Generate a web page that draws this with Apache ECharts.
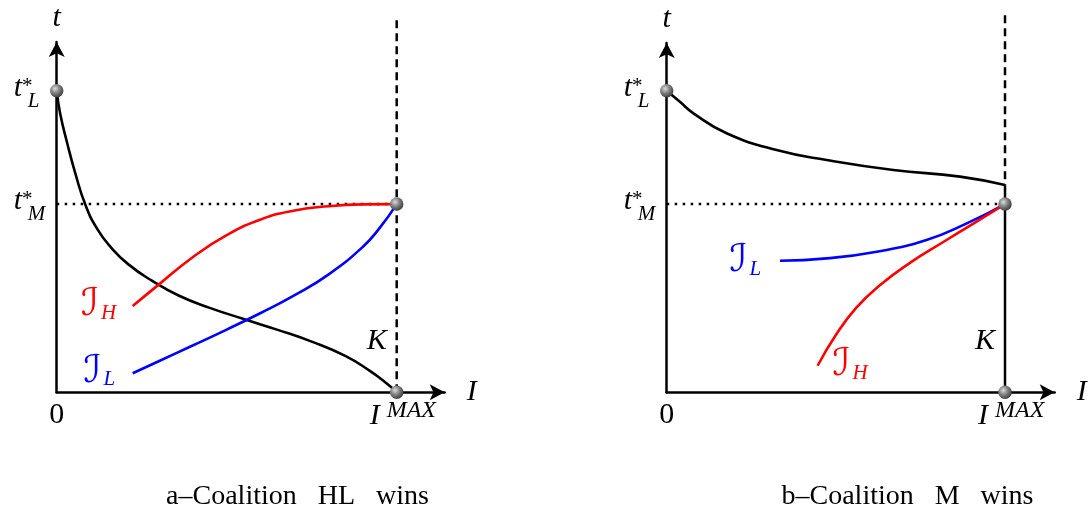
<!DOCTYPE html>
<html>
<head>
<meta charset="utf-8">
<script src="https://cdn.jsdelivr.net/npm/echarts@6/dist/echarts.min.js"></script>
<style>
  html, body { margin: 0; padding: 0; background: #fff; }
  #chart { width: 1092px; height: 515px; }
</style>
</head>
<body>
<div id="chart"></div>
<script>
// Key levels (normalised: I^MAX = 1, t*_L = 1)
const I_MAX = 1;
const T_L = 1;
const T_M = 0.624;
const T_TOP = 1.25;       // top of the capacity line K
const B_KNEE_T = 0.687;   // where the panel b frontier meets K

// Panel a: coalition HL wins
const aFrontierI = [0, 0.01, 0.03, 0.055, 0.085, 0.12, 0.16, 0.21, 0.28, 0.36, 0.45, 0.55, 0.65, 0.75, 0.85, 0.92, 0.97, 1];
const aFrontierT = [1, 0.925, 0.83, 0.725, 0.62, 0.54, 0.48, 0.425, 0.37, 0.32, 0.28, 0.243, 0.207, 0.168, 0.12, 0.072, 0.03, 0];
const aHighI = [0.2235, 0.3, 0.4, 0.5, 0.6, 0.7, 0.8, 0.9, 1];
const aHighT = [0.286, 0.357, 0.448, 0.521, 0.573, 0.603, 0.617, 0.623, 0.624];
const aLowI = [0.2235, 0.3, 0.4, 0.5, 0.6, 0.7, 0.8, 0.9, 0.95, 1];
const aLowT = [0.063, 0.103, 0.155, 0.208, 0.263, 0.322, 0.391, 0.482, 0.545, 0.624];

// Panel b: coalition M wins
const bFrontierI = [0, 0.039, 0.079, 0.177, 0.325, 0.473, 0.670, 0.867, 1];
const bFrontierT = [1, 0.963, 0.925, 0.859, 0.803, 0.770, 0.737, 0.715, 0.687];
const bHighI = [0.446, 0.5, 0.56, 0.63, 0.72, 0.82, 0.91, 1];
const bHighT = [0.088, 0.19, 0.28, 0.355, 0.43, 0.50, 0.562, 0.624];
const bLowI = [0.335, 0.473, 0.621, 0.768, 0.887, 1];
const bLowT = [0.436, 0.444, 0.466, 0.505, 0.560, 0.624];

const captions = ['a\u2013Coalition   HL   wins', 'b\u2013Coalition   M   wins'];

const zip = (xs, ys) => xs.map((x, i) => [x, ys[i]]);

const grids = [
  { left: 56.7, top: 42, width: 388, height: 350.3 },
  { left: 666.7, top: 43, width: 388, height: 349.3 }
];
const xMax = [388 / 340, 388 / 338.3];
const yMax = [350.3 / 301.6, 349.3 / 301.6];

const axisLineStyle = { color: '#000', width: 2.5 };
function axis(g, max) {
  return {
    gridIndex: g, type: 'value', min: 0, max: max,
    axisLine: { show: true, onZero: false, symbol: ['none', 'arrow'], symbolSize: [12, 15], lineStyle: axisLineStyle },
    axisTick: { show: false }, axisLabel: { show: false }, splitLine: { show: false }
  };
}

const sphere = {
  type: 'radial', x: 0.38, y: 0.35, r: 0.7,
  colorStops: [
    { offset: 0, color: '#dcdcdc' },
    { offset: 0.45, color: '#858585' },
    { offset: 1, color: '#363636' }
  ]
};

function curve(g, data, color, z) {
  return {
    type: 'line', xAxisIndex: g, yAxisIndex: g, data: data,
    smooth: 0.5, symbol: 'none', z: z || 3,
    lineStyle: { color: color, width: 2.6 }
  };
}
function straight(g, data, type, z) {
  return {
    type: 'line', xAxisIndex: g, yAxisIndex: g, data: data, clip: false,
    symbol: 'none', z: z || 2, silent: true,
    lineStyle: { color: '#000', width: 2.5, type: type }
  };
}
function dots(g) {
  return {
    type: 'scatter', xAxisIndex: g, yAxisIndex: g, z: 10,
    data: [[0, T_L], [I_MAX, T_M], [I_MAX, 0]],
    symbolSize: 13.5,
    itemStyle: { color: sphere, opacity: 1 }
  };
}

const series = [
  // panel a
  straight(0, [[0, T_M], [I_MAX, T_M]], [2.5, 5.5]),
  straight(0, [[I_MAX, 0], [I_MAX, T_TOP]], [8, 5]),
  curve(0, zip(aFrontierI, aFrontierT), '#000', 3),
  curve(0, zip(aHighI, aHighT), '#ff0000', 4),
  curve(0, zip(aLowI, aLowT), '#0000ff', 4),
  dots(0),
  // panel b
  straight(1, [[0, T_M], [I_MAX, T_M]], [2.5, 5.5]),
  straight(1, [[I_MAX, T_TOP], [I_MAX, B_KNEE_T]], [8, 5]),
  straight(1, [[I_MAX, 0], [I_MAX, B_KNEE_T]], 'solid'),
  curve(1, zip(bFrontierI, bFrontierT), '#000', 3),
  curve(1, zip(bLowI, bLowT), '#0000ff', 4),
  curve(1, zip(bHighI, bHighT), '#ff0000', 5),
  dots(1)
];

const chart = echarts.init(document.getElementById('chart'), null, { renderer: 'canvas' });
chart.setOption({
  animation: false,
  backgroundColor: '#fff',
  grid: grids,
  xAxis: [axis(0, xMax[0]), axis(1, xMax[1])],
  yAxis: [axis(0, yMax[0]), axis(1, yMax[1])],
  series: series
});

// ---- text labels, anchored to data positions ----
const MATH = '"Liberation Serif", "DejaVu Serif", serif';
const SCRIPT = '"DejaVu Serif", "DejaVu Sans", "Noto Sans", serif';
const ROMAN = '"Liberation Serif", "DejaVu Serif", serif';

function txt(x, y, text, opts) {
  opts = opts || {};
  const align = opts.align || 'center';
  return {
    type: 'text', x: x, y: y, silent: true, z: 20,
    style: {
      text: text,
      font: opts.font || ('italic 30px ' + MATH),
      fill: opts.color || '#000',
      align: align, textAlign: align,
      verticalAlign: 'middle', textVerticalAlign: 'middle'
    }
  };
}
const P = (g, v) => chart.convertToPixel({ gridIndex: g }, v);

function starLabel(anchor, sub, out) {
  const [x, y] = anchor;
  out.push(txt(x - 34.7, y - 2.5, 't', { align: 'right' }));
  out.push(txt(x - 34.7, y - 4.5, '*', { align: 'left', font: '21px ' + MATH }));
  out.push(txt(x - 29, y + 10.5, sub, { align: 'left', font: 'italic 21px ' + MATH }));
}
function scriptLabel(cx, cy, sub, color, out) {
  out.push(txt(cx, cy, '\u2110', { font: 'italic 38px ' + SCRIPT, color: color }));
  out.push(txt(cx + 11, cy + 8, sub, { align: 'left', font: 'italic 21px ' + MATH, color: color }));
}

const labels = [];
[0, 1].forEach(g => {
  const O = P(g, [0, 0]);
  const top = P(g, [0, yMax[g]]);
  const end = P(g, [xMax[g], 0]);
  const IM = P(g, [I_MAX, 0]);
  labels.push(txt(top[0], top[1] - 24, 't'));
  starLabel(P(g, [0, T_L]), 'L', labels);
  starLabel(P(g, [0, T_M]), 'M', labels);
  labels.push(txt(O[0], O[1] + 23, '0', { font: '30px ' + ROMAN }));
  labels.push(txt(IM[0] - 22, IM[1] + 24, 'I'));
  labels.push(txt(IM[0] - 10, IM[1] + 18, 'MAX', { align: 'left', font: 'italic 24px ' + MATH }));
  labels.push(txt(IM[0] - 20, IM[1] - 51, 'K'));
  labels.push(txt(end[0] + 27, end[1], 'I'));
  labels.push(txt(O[0] + 240.8, O[1] + 104, captions[g], { font: '28px ' + ROMAN }));
});

// curve names
const aH = P(0, [aHighI[0], aHighT[0]]);
scriptLabel(aH[0] - 42.7, aH[1] - 1, 'H', '#ff0000', labels);
const aL = P(0, [aLowI[0], aLowT[0]]);
scriptLabel(aL[0] - 40.2, aL[1] - 1.6, 'L', '#0000ff', labels);
const bL = P(1, [bLowI[0], bLowT[0]]);
scriptLabel(bL[0] - 41.5, bL[1] + 0.3, 'L', '#0000ff', labels);
const bH = P(1, [bHighI[0], bHighT[0]]);
scriptLabel(bH[0] + 23.8, bH[1] - 0.7, 'H', '#ff0000', labels);

chart.setOption({ graphic: labels });
</script>
</body>
</html>
